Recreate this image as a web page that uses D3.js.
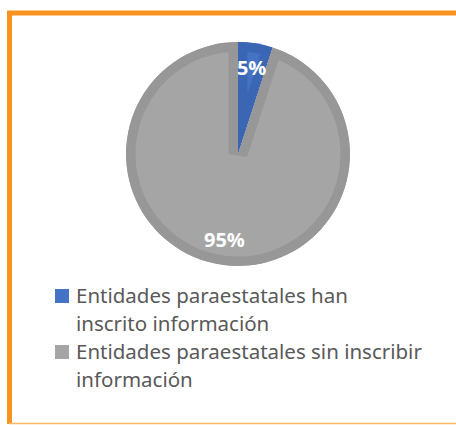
<!DOCTYPE html>
<html>
<head>
<meta charset="utf-8">
<script src="https://cdn.jsdelivr.net/npm/d3@7"></script>
<style>
  body { margin: 0; background: #fff; }
  svg { display: block; }
</style>
</head>
<body>
<svg width="456" height="425"></svg>
<script>
// data
var categories = ["Entidades paraestatales han inscrito información",
    "Entidades paraestatales sin inscribir información"];
var values = [5, 95];
var pctLabels = ["5%", "95%"];
// legend text as it wraps in the picture
var legendLines = [
    ["Entidades paraestatales han", "inscrito información"],
    ["Entidades paraestatales sin inscribir", "información"]
];

var svg = d3.select("svg"),
    width = +svg.attr("width"),
    height = +svg.attr("height");

// colours: inner fill and darker bevel edge
var fillColor = d3.scaleOrdinal().domain(categories).range(["#4472c4", "#a5a5a5"]);
var edgeColor = d3.scaleOrdinal().domain(categories).range(["#3b66b4", "#979797"]);

// orange frame (top + left heavy, bottom thin)
svg.append("path")
    .attr("d", "M9.5,424 L9.5,13 L460,13")
    .attr("fill", "none")
    .attr("stroke", "#f7931e")
    .attr("stroke-width", 5);
svg.append("line")
    .attr("x1", 9).attr("x2", 460)
    .attr("y1", 423.5).attr("y2", 423.5)
    .attr("stroke", "#fbb869")
    .attr("stroke-width", 1.5);

// pie
var cx = 238, cy = 154, r = 112;
var pie = d3.pie().sort(null).value(function (d) { return d; });
var arc = d3.arc().innerRadius(0).outerRadius(r);
var labelArc = d3.arc().innerRadius(87).outerRadius(87);

var arcs = pie(values);
var g = svg.append("g").attr("transform", "translate(" + cx + "," + cy + ")");
var defs = svg.append("defs");

arcs.forEach(function (d, i) {
    defs.append("clipPath").attr("id", "clip" + i)
        .append("path").attr("d", arc(d));
    g.append("path")
        .attr("d", arc(d))
        .attr("fill", fillColor(categories[i]))
        .attr("stroke", edgeColor(categories[i]))
        .attr("stroke-width", 19)
        .attr("stroke-linejoin", "miter")
        .attr("clip-path", "url(#clip" + i + ")");
});

g.selectAll("text.pct")
    .data(arcs)
    .enter().append("text")
    .attr("class", "pct")
    .attr("transform", function (d) { return "translate(" + labelArc.centroid(d) + ")"; })
    .attr("text-anchor", "middle")
    .attr("dy", "0.36em")
    .attr("fill", "#fff")
    .attr("font-family", "'Open Sans', 'Noto Sans', sans-serif")
    .attr("font-weight", "bold")
    .attr("font-size", "20px")
    .text(function (d, i) { return pctLabels[i]; });

// legend
var legY = [296, 352];
var leg = svg.append("g").attr("class", "legend");
categories.forEach(function (c, i) {
    var item = leg.append("g").attr("transform", "translate(55," + legY[i] + ")");
    item.append("rect")
        .attr("x", 0).attr("y", -7)
        .attr("width", 14).attr("height", 14)
        .attr("fill", fillColor(c));
    legendLines[i].forEach(function (t, j) {
        item.append("text")
            .attr("x", 21)
            .attr("y", j * 28)
            .attr("dy", "0.35em")
            .attr("fill", "#595959")
            .attr("font-family", "'Noto Sans', sans-serif")
            .attr("font-size", "20.5px")
            .text(t);
    });
});
</script>
</body>
</html>
